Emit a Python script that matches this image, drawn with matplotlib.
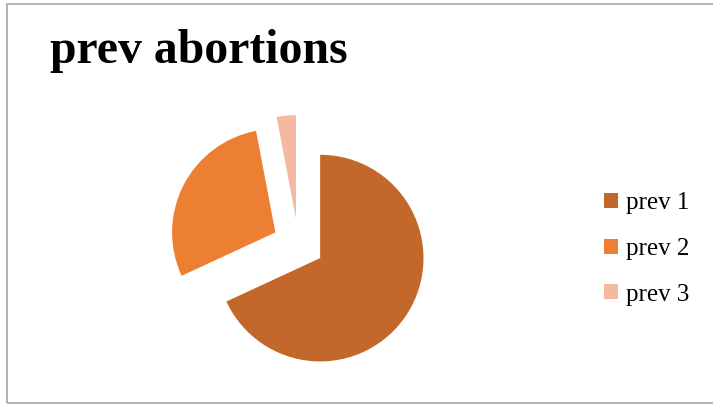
import matplotlib
matplotlib.use('Agg')
from matplotlib import pyplot as plt
from matplotlib.patches import Rectangle

# data
labels = ['prev 1', 'prev 2', 'prev 3']
shares = [68.1, 28.9, 3.0]
colors = ['#C4672A', '#ED7F33', '#F4B8A3']
explode = [0.25, 0.25, 0.25]

fig = plt.figure(figsize=(7.13, 4.04), dpi=100)

# grey frame around the chart area
fig.patches.append(Rectangle((7 / 713, 0.003), 1.0, 0.988, transform=fig.transFigure,
                             fill=False, edgecolor='#A6A6A6', linewidth=1.2))

fig.text(50 / 713, 1 - 63 / 404, 'prev abortions', fontsize=34.4, fontweight='bold',
         family='Liberation Serif', va='baseline', ha='left')

ax = fig.add_axes([0.2011, 0.0119, 0.4348, 0.7673])
wedges, _ = ax.pie(shares, colors=colors, explode=explode, startangle=90,
                   counterclock=False, radius=1.0)
ax.set_xlim(-1.5, 1.5)
ax.set_ylim(-1.5, 1.5)
ax.set_aspect('equal')
ax.axis('off')

fig.legend(wedges, labels, loc='center left', bbox_to_anchor=(604 / 713, 1 - 249 / 404),
           frameon=False, prop={'family': 'Liberation Serif', 'size': 18},
           handlelength=0.56, handleheight=0.56, handletextpad=0.3,
           labelspacing=0.94, borderpad=0, borderaxespad=0)

fig.savefig('out.png', dpi=100)
